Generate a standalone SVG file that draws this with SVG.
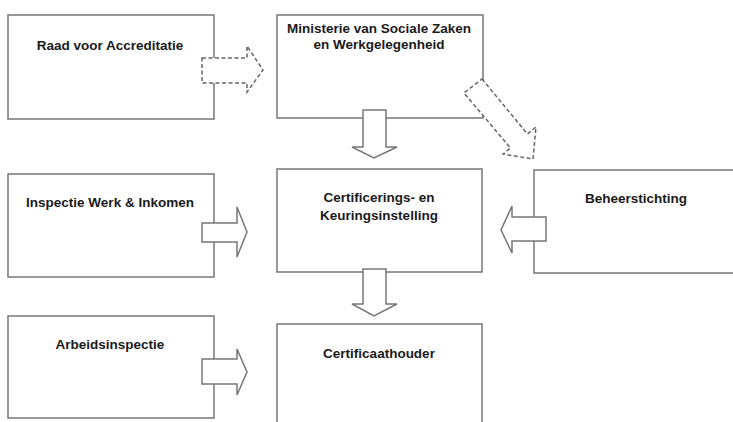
<svg xmlns="http://www.w3.org/2000/svg" width="733" height="422" viewBox="0 0 733 422">
<style>
.box{fill:#fff;stroke:#777;stroke-width:1.5}
.arr{fill:#fff;stroke:#777;stroke-width:1.5;stroke-linejoin:miter}
.dash{fill:#fff;stroke:#666;stroke-width:1.5;stroke-dasharray:4 2.5}
text{font-family:"Liberation Sans",Arial,sans-serif;font-weight:bold;font-size:13.5px;fill:#1a1a1a;text-anchor:middle}
</style>
<rect width="733" height="422" fill="#fff"/>
<g id="raad"><rect class="box" x="8" y="15" width="206" height="104"/><text x="110" y="50">Raad voor Accreditatie</text></g>
<g id="ministerie"><rect class="box" x="277" y="15" width="206" height="103"/><text x="379" y="33">Ministerie van Sociale Zaken</text><text x="379" y="49">en Werkgelegenheid</text></g>
<g id="inspectie"><rect class="box" x="8" y="174" width="206" height="103"/><text x="110" y="207">Inspectie Werk &amp; Inkomen</text></g>
<g id="cki"><rect class="box" x="277" y="169" width="205" height="103"/><text x="379" y="202">Certificerings- en</text><text x="379" y="220">Keuringsinstelling</text></g>
<g id="beheer"><rect class="box" x="534" y="170" width="210" height="103"/><text x="636" y="203">Beheerstichting</text></g>
<g id="arbeids"><rect class="box" x="8" y="316" width="206" height="102"/><text x="110" y="349">Arbeidsinspectie</text></g>
<g id="houder"><rect class="box" x="277" y="324" width="205" height="110"/><text x="379" y="358">Certificaathouder</text></g>
<g id="connectors">
<polygon class="dash" points="202,58 247,58 247,46 263,70 247,92 247,83 202,83"/>
<polygon class="arr" points="363,110 386,110 386,147 397,147 374,158 352,147 363,147"/>
<polygon class="dash" points="482,79 527.5,134 536,127 533,159 503,154 510.5,148 464,93"/>
<polygon class="arr" points="202,223 237,223 237,207 247,232 237,257 237,242 202,242"/>
<polygon class="arr" points="546,217 512,217 512,206 501,230 512,253 512,241 546,241"/>
<polygon class="arr" points="363,269 386,269 386,304 397,304 374,316 352,304 363,304"/>
<polygon class="arr" points="202,359 237,359 237,349 247,372 237,395 237,384 202,384"/>
</g>
</svg>
